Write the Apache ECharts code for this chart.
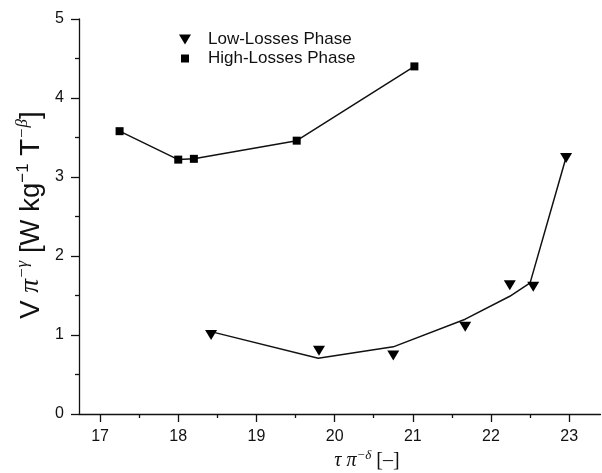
<!DOCTYPE html>
<html><head><meta charset="utf-8">
<script src="https://cdn.jsdelivr.net/npm/echarts@6/dist/echarts.min.js"></script>
<style>html,body{margin:0;padding:0;background:#fff}#c{width:602px;height:473px}</style>
</head><body><div id="c"></div>
<script>
var xTicks = [17, 18, 19, 20, 21, 22, 23];
var xMinorTicks = [17.5, 18.5, 19.5, 20.5, 21.5, 22.5];
var lowX = [18.42, 19.80, 20.75, 21.67, 22.24, 22.54, 22.96];
var lowY = [1.00, 0.80, 0.74, 1.105, 1.63, 1.61, 3.24];
var lowFitX = [18.47, 19.79, 20.75, 21.67, 22.24, 22.50, 22.96];
var lowFitY = [1.03, 0.705, 0.85, 1.20, 1.49, 1.66, 3.25];
var highX = [17.25, 18.00, 18.20, 19.515, 21.02];
var highY = [3.58, 3.22, 3.23, 3.46, 4.40];

function pairs(xs, ys) { return xs.map(function (x, i) { return [x, ys[i]]; }); }
var SANS = 'Liberation Sans';
var SERIF = 'Liberation Serif';
var XMIN = 16.731, XMAX = 23.4;
var triPath = 'path://M0,0L12,0L6,10Z';

var chart = echarts.init(document.getElementById('c'));
chart.setOption({
  animation: false,
  backgroundColor: '#fff',
  grid: { left: 79, right: 1.5, top: 19, bottom: 59, containLabel: false },
  xAxis: [{
    type: 'value', min: XMIN, max: XMAX, position: 'bottom',
    axisLine: { show: true, onZero: false, lineStyle: { color: '#111', width: 1.3 } },
    axisTick: { show: true, inside: false, length: 8, customValues: xTicks, lineStyle: { color: '#111', width: 1.3 } },
    axisLabel: { show: true, customValues: xTicks, margin: 15, color: '#111', fontFamily: SANS, fontSize: 16 },
    splitLine: { show: false }
  }, {
    type: 'value', min: XMIN, max: XMAX, position: 'bottom',
    axisLine: { show: false, onZero: false },
    axisTick: { show: true, inside: false, length: 4, customValues: xMinorTicks, lineStyle: { color: '#111', width: 1.3 } },
    axisLabel: { show: false },
    splitLine: { show: false }
  }],
  yAxis: {
    type: 'value', min: 0, max: 5, interval: 1,
    axisLine: { show: true, onZero: false, lineStyle: { color: '#111', width: 1.3 } },
    axisTick: { show: true, inside: false, length: 8, lineStyle: { color: '#111', width: 1.3 } },
    minorTick: { show: true, splitNumber: 2, length: 4, lineStyle: { color: '#111', width: 1.3 } },
    axisLabel: { margin: 15, color: '#111', fontFamily: SANS, fontSize: 16 },
    splitLine: { show: false }
  },
  legend: [{
    data: [{ name: 'Low-Losses Phase', icon: triPath, itemStyle: { color: '#000', opacity: 1 } }],
    orient: 'vertical', left: 179, top: 31, padding: 0,
    itemWidth: 12, itemHeight: 10,
    selectedMode: false,
    formatter: '{a|{name}}',
    textStyle: { rich: { a: { fontFamily: SANS, fontSize: 17, color: '#111', padding: [0, 0, 0, 12] } } }
  }, {
    data: [{ name: 'High-Losses Phase', icon: 'rect', itemStyle: { color: '#000', opacity: 1 } }],
    orient: 'vertical', left: 181, top: 50, padding: 0,
    itemWidth: 8, itemHeight: 8,
    selectedMode: false,
    formatter: '{a|{name}}',
    textStyle: { rich: { a: { fontFamily: SANS, fontSize: 17, color: '#111', padding: [0, 0, 0, 14] } } }
  }],
  graphic: [{
    type: 'text', x: 31, y: 215, rotation: Math.PI / 2,
    style: {
      text: '{m|V }{g|π}{s|−γ}{m| [W kg}{t|−1}{m| T}{s|−β}{m|]}',
      align: 'center', verticalAlign: 'middle',
      rich: {
        m: { fontFamily: SANS, fontSize: 27.5, lineHeight: 33, fill: '#111', verticalAlign: 'middle' },
        g: { fontFamily: SERIF, fontStyle: 'italic', fontSize: 27.5, lineHeight: 33, fill: '#111', verticalAlign: 'middle' },
        s: { fontFamily: SERIF, fontStyle: 'italic', fontSize: 17, lineHeight: 17, fill: '#111', verticalAlign: 'top' },
        t: { fontFamily: SANS, fontSize: 17, lineHeight: 17, fill: '#111', verticalAlign: 'top' }
      }
    }
  }, {
    type: 'text', x: 367, y: 461,
    style: {
      text: '{g|τ π}{s|−δ}{m| [–]}',
      align: 'center', verticalAlign: 'middle',
      rich: {
        g: { fontFamily: SERIF, fontStyle: 'italic', fontSize: 20, lineHeight: 24, fill: '#111', verticalAlign: 'middle' },
        s: { fontFamily: SERIF, fontStyle: 'italic', fontSize: 13, lineHeight: 13, fill: '#111', verticalAlign: 'top' },
        m: { fontFamily: SERIF, fontSize: 20, lineHeight: 24, fill: '#111', verticalAlign: 'middle' }
      }
    }
  }],
  series: [{
    name: 'Low-Losses fit', type: 'line', xAxisIndex: 0,
    data: pairs(lowFitX, lowFitY), showSymbol: false, symbol: 'none',
    lineStyle: { color: '#111', width: 1.5 }, z: 2
  }, {
    name: 'Low-Losses Phase', type: 'scatter', xAxisIndex: 0,
    data: pairs(lowX, lowY), symbol: triPath, symbolSize: [12, 10],
    itemStyle: { color: '#000', opacity: 1 }, z: 3
  }, {
    name: 'High-Losses Phase', type: 'line', xAxisIndex: 0,
    data: pairs(highX, highY), symbol: 'rect', symbolSize: 8, showAllSymbol: true,
    lineStyle: { color: '#111', width: 1.5 }, itemStyle: { color: '#000', opacity: 1 }, z: 3
  }]
});
</script></body></html>
